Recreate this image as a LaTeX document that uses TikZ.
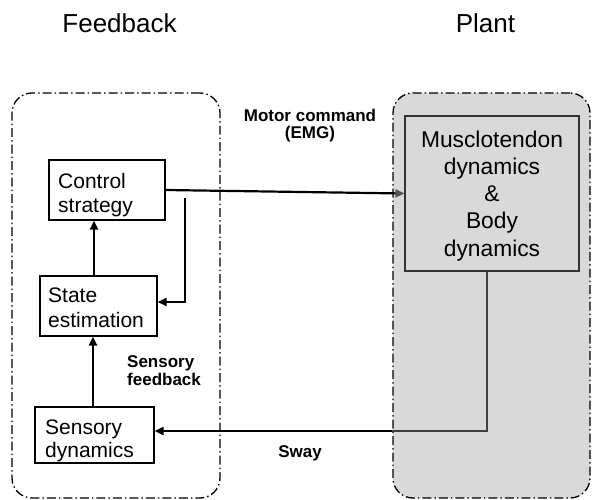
\documentclass[tikz,border=0pt]{standalone}
\usepackage{fontspec}
\setmainfont{Liberation Sans}
\usetikzlibrary{arrows.meta}
\definecolor{plantgray}{HTML}{D9D9D9}
\definecolor{tipgray}{HTML}{555555}
\definecolor{linegray}{HTML}{404040}
\definecolor{boxgray}{HTML}{333333}
\tikzset{
  container/.style={draw, line width=1.3pt, rounded corners=20pt,
    dash pattern=on 9pt off 3pt on 1.5pt off 3pt, minimum width=#1},
  blockbox/.style={draw, line width=1.1pt, inner sep=0pt},
  boxtext/.style={inner sep=0pt, align=left, font=\fontsize{21}{24}\selectfont},
  title/.style={inner sep=0pt, font=\fontsize{26}{30}\selectfont},
  smalllabel/.style={inner sep=0pt, font=\fontsize{17}{18}\selectfont\bfseries},
  arr/.style={line width=2.2pt, -{Triangle[length=9pt,width=8pt]}},
}
\begin{document}
\begin{tikzpicture}[x=1pt,y=-1pt]
\useasboundingbox (0,0) rectangle (592,500);
% containers
\node[container=208pt, minimum height=405pt] (fb) at (116,295.5) {};
\node[container=197pt, minimum height=405pt, fill=plantgray] (pl) at (491.5,295.5) {};
% titles
\node[title, anchor=base] (tfb) at (119.5,33) {Feedback};
\node[title, anchor=base] (tpl) at (485.5,33) {Plant};
% blocks
\node[blockbox, minimum width=116pt, minimum height=60pt] (cs) at (107,190) {};
\node[blockbox, minimum width=117pt, minimum height=60pt] (se) at (98.5,306) {};
\node[blockbox, minimum width=119pt, minimum height=56pt] (sd) at (94.5,435) {};
\node[blockbox, draw=boxgray, minimum width=174pt, minimum height=155pt] (mb) at (492,193.5) {};
% block texts
\node[boxtext, anchor=north west] (cst) at (58,173) {Control\\strategy};
\node[boxtext, anchor=north west, font=\fontsize{21}{25}\selectfont] (set) at (48,288) {State\\estimation};
\node[boxtext, anchor=north west, font=\fontsize{21}{23}\selectfont] (sdt) at (45,420) {Sensory\\dynamics};
\node[inner sep=0pt, align=center, anchor=north, font=\fontsize{22.8}{27.2}\selectfont] (mbt) at (492,130.5) {Musclotendon\\dynamics\\\&\\Body\\dynamics};
% labels
\node[smalllabel, align=center, anchor=north, font=\fontsize{17}{16.5}\selectfont\bfseries] (lmc) at (310,109) {Motor command\\(EMG)};
\node[smalllabel, align=left, anchor=north west] (lsf) at (127,355) {Sensory\\feedback};
\node[smalllabel, anchor=base] (lsw) at (300,457) {Sway};
% connectors
\draw[line width=2.2pt, -{Triangle[length=9pt,width=8pt,color=tipgray]}] (cs.east) -- (mb.west);
\coordinate (br) at (185,198);
\draw[arr] (br) |- ([yshift=4pt]se.east);
\draw[arr] ([xshift=-4.5pt]se.north) -- ([xshift=-4.5pt]se.north |- cs.south);
\draw[arr] ([xshift=-1.5pt]sd.north) -- ([xshift=-1.5pt]sd.north |- se.south);
\coordinate (swy) at ([xshift=-5pt]mb.south |- 0,431);
\coordinate (swx) at (pl.west |- swy);
\draw[line width=2.2pt, draw=linegray] ([xshift=-5pt]mb.south) -- (swy) -- (swx);
\draw[arr] (swx) -- ([yshift=4pt]sd.east);
\end{tikzpicture}
\end{document}
